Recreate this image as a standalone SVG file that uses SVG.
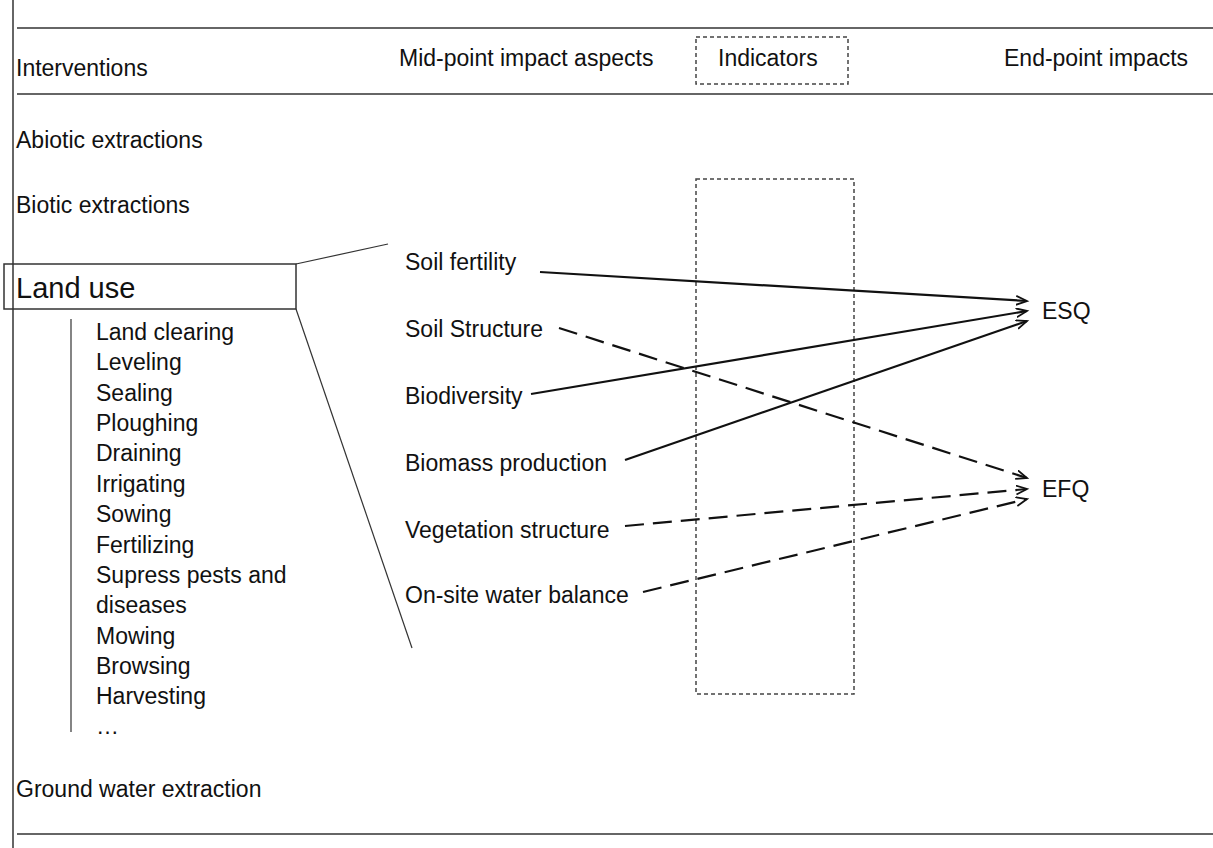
<svg xmlns="http://www.w3.org/2000/svg" width="1213" height="848" viewBox="0 0 1213 848">
<style>
text{font-family:"Liberation Sans",Arial,sans-serif;font-size:23px;fill:#111}
.frame{stroke:#333;stroke-width:1.5;fill:none}
.thin{stroke:#333;stroke-width:1.2;fill:none}
.dot{stroke:#444;stroke-width:1.5;fill:none;stroke-dasharray:4 3}
.solid{stroke:#111;stroke-width:2.2;fill:none}
.dash{stroke:#111;stroke-width:2.2;fill:none;stroke-dasharray:19 9}
</style>
<defs>
<marker id="arr" markerUnits="userSpaceOnUse" markerWidth="14" markerHeight="12" refX="11" refY="5" orient="auto">
<path d="M0,0.5 L11,5 L0,9.5" fill="none" stroke="#111" stroke-width="1.8"/>
</marker>
</defs>
<rect width="1213" height="848" fill="#fff"/>
<g id="frame">
<line class="frame" x1="13" y1="0" x2="13" y2="848"/>
<line class="frame" x1="17" y1="28" x2="1213" y2="28"/>
<line class="frame" x1="17" y1="94" x2="1213" y2="94"/>
<line class="frame" x1="17" y1="834" x2="1213" y2="834"/>
</g>
<g id="headers">
<text x="16" y="76">Interventions</text>
<text x="399" y="66">Mid-point impact aspects</text>
<rect class="dot" x="696" y="37" width="152" height="47"/>
<text x="718" y="66">Indicators</text>
<text x="1004" y="66">End-point impacts</text>
</g>
<g id="interventions">
<text x="16" y="148">Abiotic extractions</text>
<text x="16" y="213">Biotic extractions</text>
<text x="16" y="797">Ground water extraction</text>
</g>
<g id="land-use">
<rect class="frame" x="4" y="264" width="292" height="45" fill="#fff"/>
<text x="16" y="298" style="font-size:29px">Land use</text>
<line class="thin" x1="71" y1="319" x2="71" y2="732"/>
<text x="96" y="340">Land clearing</text>
<text x="96" y="370">Leveling</text>
<text x="96" y="401">Sealing</text>
<text x="96" y="431">Ploughing</text>
<text x="96" y="461">Draining</text>
<text x="96" y="492">Irrigating</text>
<text x="96" y="522">Sowing</text>
<text x="96" y="553">Fertilizing</text>
<text x="96" y="583">Supress pests and</text>
<text x="96" y="613">diseases</text>
<text x="96" y="644">Mowing</text>
<text x="96" y="674">Browsing</text>
<text x="96" y="704">Harvesting</text>
<text x="96" y="734">…</text>
<line class="thin" x1="296" y1="264" x2="388" y2="244"/>
<line class="thin" x1="296" y1="309" x2="412" y2="648"/>
</g>
<g id="indicators">
<rect class="dot" x="696" y="179" width="158" height="515"/>
</g>
<g id="midpoints">
<text x="405" y="270">Soil fertility</text>
<text x="405" y="337">Soil Structure</text>
<text x="405" y="404">Biodiversity</text>
<text x="405" y="471">Biomass production</text>
<text x="405" y="538">Vegetation structure</text>
<text x="405" y="603">On-site water balance</text>
</g>
<g id="esq"><text x="1042" y="319">ESQ</text></g>
<g id="efq"><text x="1042" y="497">EFQ</text></g>
<g id="connectors">
<line class="solid" x1="540" y1="272" x2="1027" y2="301" marker-end="url(#arr)"/>
<line class="solid" x1="531" y1="394" x2="1027" y2="311" marker-end="url(#arr)"/>
<line class="solid" x1="625" y1="460" x2="1027" y2="321" marker-end="url(#arr)"/>
<line class="dash" x1="559" y1="328" x2="1027" y2="478" marker-end="url(#arr)"/>
<line class="dash" x1="625" y1="526" x2="1027" y2="489" marker-end="url(#arr)"/>
<line class="dash" x1="643" y1="592" x2="1027" y2="499" marker-end="url(#arr)"/>
</g>
</svg>
